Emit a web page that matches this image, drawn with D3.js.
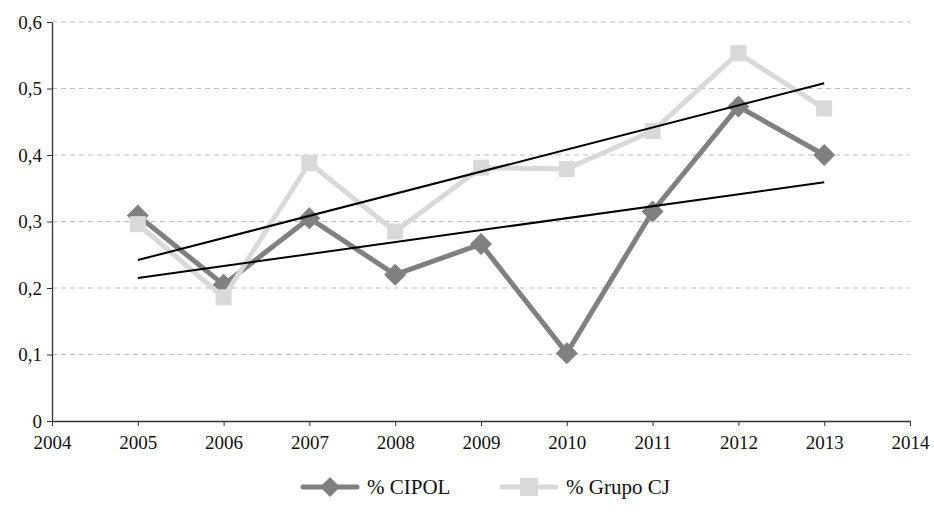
<!DOCTYPE html>
<html>
<head>
<meta charset="utf-8">
<script src="https://cdn.jsdelivr.net/npm/d3@7"></script>
<style>
  body { margin: 0; background: #fff; }
</style>
</head>
<body>
<svg id="chart"></svg>
<script>
// data
var years = [2005, 2006, 2007, 2008, 2009, 2010, 2011, 2012, 2013];
var cipol = [0.309, 0.205, 0.305, 0.220, 0.266, 0.102, 0.315, 0.473, 0.400];
var grupoCJ = [0.296, 0.186, 0.388, 0.285, 0.381, 0.379, 0.436, 0.553, 0.470];
// trend line ends (2005, 2013)
var trendYears = [2005, 2013];
var cipolTrend = [0.215, 0.359];
var grupoTrend = [0.242, 0.508];
var yTicks = [0, 0.1, 0.2, 0.3, 0.4, 0.5, 0.6];
var xTicks = [2004, 2005, 2006, 2007, 2008, 2009, 2010, 2011, 2012, 2013, 2014];

var FONT = "'Liberation Serif', 'Times New Roman', 'DejaVu Serif', serif";

function drawChart(svg) {
  var margin = {top: 22, right: 24, bottom: 94, left: 52},
      width = 934 - margin.left - margin.right,
      height = 515 - margin.top - margin.bottom;

  var root = d3.select(svg)
      .attr("width", 934)
      .attr("height", 515);
  var g = root.append("g")
      .attr("transform", "translate(" + margin.left + "," + margin.top + ")");

  var x = d3.scaleLinear().domain([2004, 2014]).range([0, width]);
  var y = d3.scaleLinear().domain([0, 0.6]).range([height, 0]);
  var fmt = function(d) { return d === 0 ? "0" : d3.format(".1f")(d).replace(".", ","); };

  // gridlines
  g.append("g")
    .selectAll("line")
    .data(yTicks.filter(function(d) { return d > 0; }))
    .enter().append("line")
      .attr("x1", 0).attr("x2", width)
      .attr("y1", function(d) { return y(d); })
      .attr("y2", function(d) { return y(d); })
      .attr("stroke", "#bdbdbd")
      .attr("stroke-width", 1)
      .attr("stroke-dasharray", "5,4");

  // x axis
  var xa = g.append("g")
      .attr("transform", "translate(0," + height + ")")
      .call(d3.axisBottom(x).tickValues(xTicks).tickFormat(d3.format("d")).tickSize(5).tickSizeOuter(0));
  xa.attr("font-family", FONT).attr("font-size", 19);
  xa.select(".domain").attr("stroke", "#333").attr("stroke-width", 1.3);
  xa.selectAll(".tick line").attr("stroke", "#333");
  xa.selectAll("text").attr("dy", "1.05em").attr("fill", "#111");

  // y axis
  var ya = g.append("g")
      .call(d3.axisLeft(y).tickValues(yTicks).tickFormat(fmt).tickSize(5).tickSizeOuter(0));
  ya.attr("font-family", FONT).attr("font-size", 19);
  ya.select(".domain").attr("stroke", "#333").attr("stroke-width", 1.3);
  ya.selectAll(".tick line").attr("stroke", "#333");
  ya.selectAll("text").attr("x", -10).attr("fill", "#111");

  var line = d3.line()
      .x(function(d) { return x(d[0]); })
      .y(function(d) { return y(d[1]); });

  var cjPts = years.map(function(yr, i) { return [yr, grupoCJ[i]]; });
  var ciPts = years.map(function(yr, i) { return [yr, cipol[i]]; });

  // CIPOL series
  g.append("path").datum(ciPts)
    .attr("d", line).attr("fill", "none")
    .attr("stroke", "#808080").attr("stroke-width", 5).attr("stroke-linejoin", "round");
  g.selectAll(".dm").data(ciPts).enter().append("path")
    .attr("class", "dm")
    .attr("transform", function(d) { return "translate(" + x(d[0]) + "," + y(d[1]) + ")"; })
    .attr("d", "M0,-11L11,0L0,11L-11,0Z")
    .attr("fill", "#808080");

  // Grupo CJ series (drawn over CIPOL)
  g.append("path").datum(cjPts)
    .attr("d", line).attr("fill", "none")
    .attr("stroke", "#d9d9d9").attr("stroke-width", 5).attr("stroke-linejoin", "round");
  g.selectAll(".sq").data(cjPts).enter().append("rect")
    .attr("class", "sq")
    .attr("x", function(d) { return x(d[0]) - 8; })
    .attr("y", function(d) { return y(d[1]) - 8; })
    .attr("width", 16).attr("height", 16)
    .attr("fill", "#d9d9d9");

  // trend lines
  [cipolTrend, grupoTrend].forEach(function(t) {
    g.append("path")
      .datum(trendYears.map(function(yr, i) { return [yr, t[i]]; }))
      .attr("d", line).attr("fill", "none")
      .attr("stroke", "#000").attr("stroke-width", 2);
  });

  // legend
  var leg = root.append("g").attr("transform", "translate(0,487)");
  var items = [
    {name: "% CIPOL", color: "#808080", shape: "diamond", x0: 303},
    {name: "% Grupo CJ", color: "#d9d9d9", shape: "square", x0: 502}
  ];
  items.forEach(function(it) {
    leg.append("line")
      .attr("x1", it.x0).attr("x2", it.x0 + 54)
      .attr("y1", 0).attr("y2", 0)
      .attr("stroke", it.color).attr("stroke-width", 5).attr("stroke-linecap", "round");
    if (it.shape === "diamond") {
      leg.append("path")
        .attr("transform", "translate(" + (it.x0 + 27) + ",0)")
        .attr("d", "M0,-10L10,0L0,10L-10,0Z")
        .attr("fill", it.color);
    } else {
      leg.append("rect")
        .attr("x", it.x0 + 27 - 9).attr("y", -9)
        .attr("width", 18).attr("height", 18)
        .attr("fill", it.color);
    }
    leg.append("text")
      .attr("x", it.x0 + 64).attr("y", 0).attr("dy", "0.35em")
      .attr("font-family", FONT)
      .attr("font-size", 21)
      .attr("fill", "#111")
      .text(it.name);
  });
}

drawChart(document.querySelector("#chart"));
</script>
</body>
</html>
